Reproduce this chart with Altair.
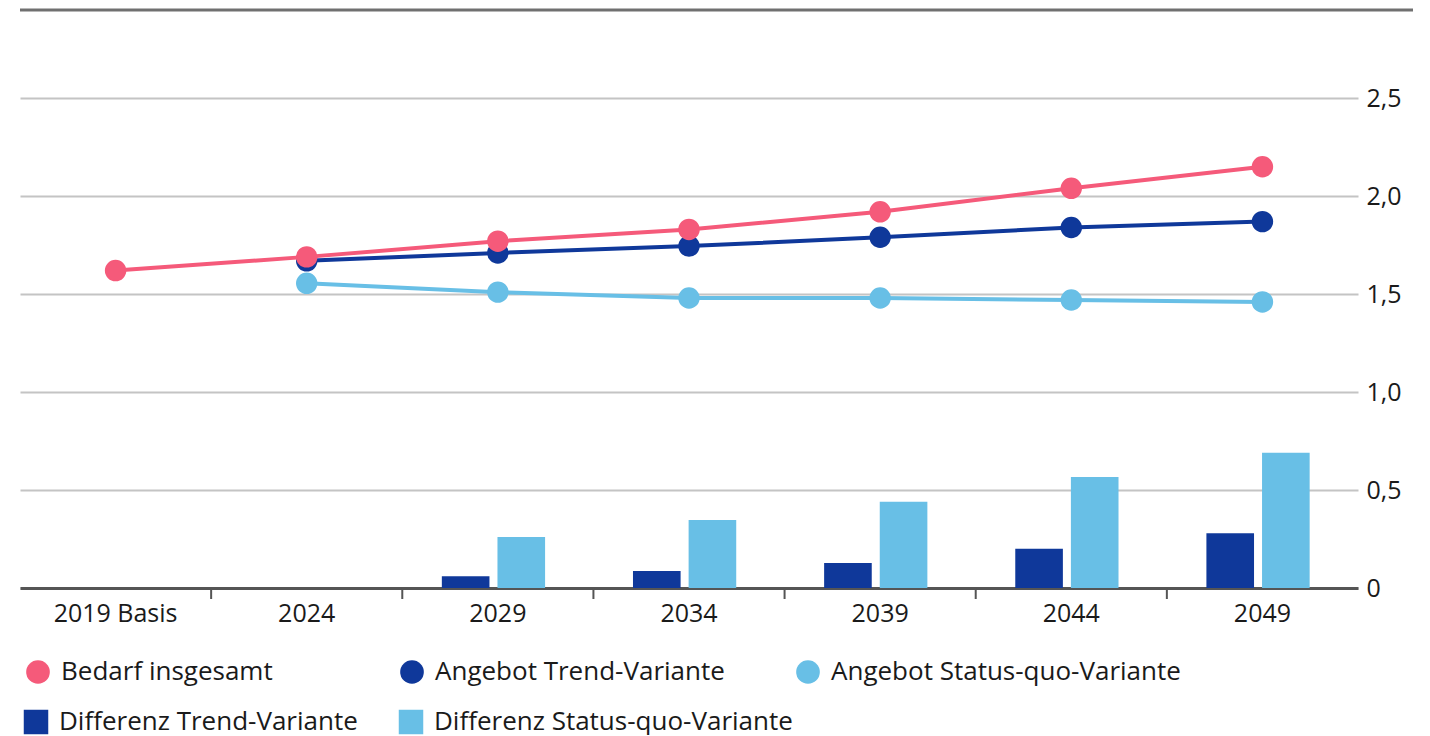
import altair as alt
import pandas as pd

categories = ["2019 Basis", "2024", "2029", "2034", "2039", "2044", "2049"]

bedarf = [1.62, 1.69, 1.77, 1.83, 1.92, 2.04, 2.15]
angebot_trend = [None, 1.67, 1.71, 1.745, 1.79, 1.84, 1.87]
angebot_sq = [None, 1.555, 1.51, 1.48, 1.48, 1.47, 1.46]
diff_trend = [None, None, 0.06, 0.087, 0.128, 0.20, 0.28]
diff_sq = [None, None, 0.26, 0.347, 0.44, 0.566, 0.69]

names = ["Bedarf insgesamt", "Angebot Trend-Variante", "Angebot Status-quo-Variante",
         "Differenz Trend-Variante", "Differenz Status-quo-Variante"]
colors = ["#F55A7A", "#0F389A", "#68BFE6", "#0F389A", "#68BFE6"]
series = [bedarf, angebot_trend, angebot_sq, diff_trend, diff_sq]

rows = []
for name, vals in zip(names, series):
    for cat, v in zip(categories, vals):
        if v is not None:
            rows.append({"Jahr": cat, "Reihe": name, "Wert": v})
df = pd.DataFrame(rows)

FONT = "Open Sans"

x_scale = alt.Scale(domain=categories, paddingInner=0, paddingOuter=0)
x_axis = alt.Axis(
    title=None, labelAngle=0, labelFontSize=25, labelColor="#1a1a1a",
    labelFont=FONT, ticks=False, domainColor="#555555", domainWidth=3,
    labelPadding=13, grid=False,
)
x_enc = alt.X("Jahr:N", sort=categories, scale=x_scale, axis=x_axis)
y_enc = alt.Y(
    "Wert:Q",
    scale=alt.Scale(domain=[0, 2.95], nice=False, zero=True),
    axis=alt.Axis(
        title=None, orient="right", values=[0, 0.5, 1.0, 1.5, 2.0, 2.5],
        labelExpr="datum.value == 0 ? '0' : replace(format(datum.value, '.1f'), '.', ',')",
        labelFontSize=25, labelColor="#1a1a1a", labelFont=FONT, labelPadding=8,
        domain=False, ticks=False, grid=True, gridColor="#c4c4c4", gridWidth=2,
    ),
)

legend_pos = {
    names[0]: (5, 649),
    names[1]: (379, 649),
    names[2]: (775, 649),
    names[3]: (3, 699),
    names[4]: (378, 699),
}

def legend_for(name, shape, size):
    lx, ly = legend_pos[name]
    return alt.Legend(
        title=None, orient="none", legendX=lx, legendY=ly, symbolType=shape,
        symbolSize=size, labelFontSize=26, labelOffset=10, padding=0,
        labelFont=FONT, labelColor="#1a1a1a", symbolStrokeWidth=0, labelLimit=0,
    )

layers = []

# bars
xoff = alt.XOffset(
    "Reihe:N",
    scale=alt.Scale(domain=[names[3], names[4]], paddingInner=0.144,
                    paddingOuter=0.79, align=0.45),
)
for i in (3, 4):
    layers.append(
        alt.Chart(df).transform_filter(alt.datum.Reihe == names[i]).mark_bar().encode(
            x=x_enc, y=y_enc, xOffset=xoff,
            color=alt.Color("Reihe:N", scale=alt.Scale(domain=[names[i]], range=[colors[i]]),
                            legend=legend_for(names[i], "square", 600)),
        )
    )

# category separator ticks on the x axis (at band boundaries)
tick_df = pd.DataFrame({"Jahr": categories[1:]})
layers.append(
    alt.Chart(tick_df).mark_rule(color="#555555", strokeWidth=2).encode(
        x=alt.X("Jahr:N", sort=categories, scale=x_scale, axis=x_axis, bandPosition=0),
        y=alt.value(578), y2=alt.value(589),
    )
)

# lines + points
for i in (2, 1, 0):
    base = alt.Chart(df).transform_filter(alt.datum.Reihe == names[i])
    layers.append(base.mark_line(color=colors[i], strokeWidth=4).encode(x=x_enc, y=y_enc))
    layers.append(
        base.mark_circle(size=460, opacity=1).encode(
            x=x_enc, y=y_enc,
            color=alt.Color("Reihe:N", scale=alt.Scale(domain=[names[i]], range=[colors[i]]),
                            legend=legend_for(names[i], "circle", 560)),
        )
    )

top_rule = alt.Chart(pd.DataFrame({"a": [0]})).mark_rule(color="#707070", strokeWidth=3).encode(
    x=alt.value(0), x2=alt.value(1393), y=alt.value(0)
)
layers.append(top_rule)

chart = (
    alt.layer(*layers)
    .resolve_scale(color="independent")
    .properties(width=1338, height=578,
                padding={"left": 10, "top": 0, "right": 0, "bottom": 0})
    .configure_view(stroke=None)
)

chart.save("out.html", embed_options={"renderer": "svg", "actions": False})
